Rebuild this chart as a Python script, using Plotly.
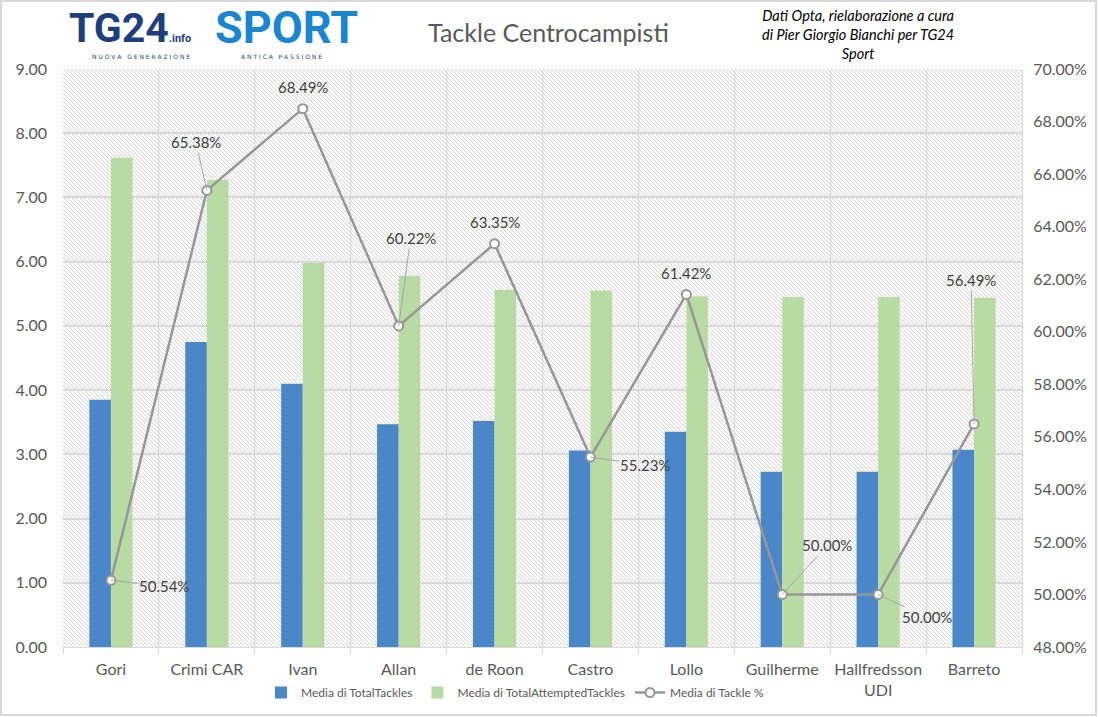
import base64
import plotly.graph_objects as go

players = ["Gori", "Crimi CAR", "Ivan", "Allan", "de Roon", "Castro", "Lollo",
           "Guilherme", "Hallfredsson<br>UDI", "Barreto"]
total_tackles = [3.85, 4.75, 4.10, 3.47, 3.52, 3.06, 3.35, 2.73, 2.73, 3.07]
attempted_tackles = [7.62, 7.27, 5.98, 5.78, 5.56, 5.55, 5.46, 5.45, 5.45, 5.44]
tackle_pct = [50.54, 65.38, 68.49, 60.22, 63.35, 55.23, 61.42, 50.00, 50.00, 56.49]

# label offsets (pixels) for the percentage labels: (ax, ay, leader)
label_offsets = [(53, 6, True), (-11, -48, True), (0, -22, False), (12, -88, True),
                 (0, -22, False), (55, 8, True), (0, -21, False), (45, -49, True),
                 (49, 23, True), (-3, -144, True)]

FONT = "Lato"
W, H = 1098, 717
L, R, T, B = 63, 76, 69, 70
pw, ph = W - L - R, H - T - B


def px(xp):
    return (xp - L) / pw


def py(yp):
    return 1 - (yp - T) / ph


fig = go.Figure()
fig.add_trace(go.Bar(x=players, y=total_tackles, name="Media di TotalTackles",
                     marker=dict(color="#4a86c8", line=dict(width=0))))
fig.add_trace(go.Bar(x=players, y=attempted_tackles, name="Media di TotalAttemptedTackles",
                     marker=dict(color="#b8dba4", line=dict(width=0))))
fig.add_trace(go.Scatter(x=players, y=tackle_pct, name="Media di Tackle %", yaxis="y2",
                         mode="lines+markers",
                         line=dict(color="#979797", width=2.5),
                         marker=dict(symbol="circle", size=9, color="white",
                                     line=dict(color="#979797", width=2))))

for p, v, (ax, ay, leader) in zip(players, tackle_pct, label_offsets):
    if leader:
        fig.add_annotation(x=p, y=v, yref="y2", text=f"{v:.2f}%", showarrow=True,
                           ax=ax, ay=ay, arrowhead=0, arrowwidth=1, arrowcolor="#a6a6a6",
                           font=dict(family=FONT, size=15, color="#404040"))
    else:
        fig.add_annotation(x=p, y=v, yref="y2", text=f"{v:.2f}%", showarrow=False,
                           yshift=-ay, font=dict(family=FONT, size=15, color="#404040"))

# hatched plot background
svg = f'''<svg xmlns="http://www.w3.org/2000/svg" width="{pw}" height="{ph}" viewBox="0 0 {pw} {ph}" preserveAspectRatio="none">
<defs><pattern id="h" patternUnits="userSpaceOnUse" width="4" height="4">
<rect width="4" height="4" fill="#ffffff"/>
<path d="M-1,-1 L5,5 M-1,3 L1,5 M3,-1 L5,1" stroke="#d4d4d4" stroke-width="1"/>
</pattern></defs><rect width="{pw}" height="{ph}" fill="url(#h)"/></svg>'''
uri = "data:image/svg+xml;base64," + base64.b64encode(svg.encode()).decode()
fig.add_layout_image(source=uri, xref="paper", yref="paper", x=0, y=1, sizex=1, sizey=1,
                     sizing="stretch", xanchor="left", yanchor="top", layer="below")


def paper_text(x, y, text, font, xanchor="center"):
    fig.add_annotation(xref="paper", yref="paper", x=px(x), y=py(y), text=text,
                       showarrow=False, xanchor=xanchor, yanchor="middle",
                       align="center", font=font)


# title, source, logo texts
paper_text(548, 32, "Tackle Centrocampisti", dict(family=FONT, size=25, color="#595959"))
paper_text(858, 35,
           "<i>Dati Opta, rielaborazione a cura<br>di Pier Giorgio Bianchi per TG24<br>Sport</i>",
           dict(family=FONT, size=14.5, color="#000000"))
paper_text(67, 28, "<b>TG24</b><span style='font-size:11px'><b>.info</b></span>",
           dict(family="Roboto", size=41, color="#1e3f7d"), xanchor="left")
paper_text(360, 28, "<b>SPORT</b>", dict(family="Roboto", size=45, color="#1a86d0"),
           xanchor="right")
paper_text(141, 57, "N U O V A   G E N E R A Z I O N E",
           dict(family="DejaVu Sans", size=6, color="#1e3f7d"))
paper_text(281, 57, "A N T I C A   P A S S I O N E",
           dict(family="DejaVu Sans", size=6, color="#1e3f7d"))

# outer frame
fig.add_shape(type="rect", xref="paper", yref="paper",
              x0=px(1), x1=px(W - 2), y0=py(H - 2), y1=py(1),
              line=dict(color="#d9d9d9", width=2), fillcolor="rgba(0,0,0,0)", layer="below")

fig.update_layout(
    width=W, height=H,
    margin=dict(l=L, r=R, t=T, b=B, autoexpand=False),
    paper_bgcolor="white", plot_bgcolor="rgba(0,0,0,0)",
    barmode="group", bargap=0.55, bargroupgap=0,
    font=dict(family=FONT, size=16, color="#595959"),
    showlegend=True,
    legend=dict(orientation="h", x=px(515), xanchor="center", y=py(678), yanchor="top",
                font=dict(family=FONT, size=12, color="#595959"), itemwidth=30,
                traceorder="normal"),
    xaxis=dict(type="category", range=[-0.5, 9.5], tickson="boundaries",
               showgrid=True, gridcolor="#d9d9d9", gridwidth=1,
               showline=True, linecolor="#d9d9d9", linewidth=1,
               ticks="outside", ticklen=6, tickcolor="#d9d9d9",
               tickangle=0, automargin=False, ticklabelstandoff=8,
               tickfont=dict(family=FONT, size=16, color="#595959")),
    yaxis=dict(range=[0, 9], dtick=1, tickformat=".2f", showgrid=True,
               gridcolor="#d9d9d9", gridwidth=1.5, zeroline=False,
               showline=False, ticks="", ticklabelstandoff=15, automargin=False,
               tickfont=dict(family=FONT, size=16, color="#595959")),
    yaxis2=dict(overlaying="y", side="right", range=[48, 70], dtick=2,
                tickformat=".2f", ticksuffix="%", showgrid=False, zeroline=False,
                showline=True, linecolor="#d9d9d9", ticks="", automargin=False,
                ticklabelstandoff=7,
                tickfont=dict(family=FONT, size=16, color="#595959")),
)

fig.write_html("out.html", config={"displayModeBar": False},
               post_script="document.body.style.margin='0';")
